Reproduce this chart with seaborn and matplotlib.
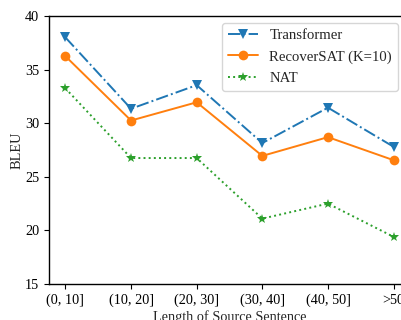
import matplotlib
matplotlib.use("Agg")
import matplotlib.pyplot as plt
import seaborn as sns
import pandas as pd

categories = ["(0, 10]", "(10, 20]", "(20, 30]", "(30, 40]", "(40, 50]", ">50"]
transformer = [38.0, 31.35, 33.55, 28.15, 31.45, 27.8]
recoversat = [36.25, 30.25, 31.95, 26.95, 28.7, 26.55]
nat = [33.25, 26.75, 26.75, 21.1, 22.5, 19.4]
yticks = [15, 20, 25, 30, 35, 40]

sns.set_style("ticks")
plt.rcParams["font.family"] = ["Liberation Serif", "DejaVu Serif"]

fig = plt.figure(figsize=(4.02, 3.2), dpi=100)
ax = fig.add_axes([49 / 402, 36 / 320, 361 / 402, 268 / 320])

pos = list(range(len(categories)))
series = [
    ("Transformer", transformer, "v", "-.", "C0", 7),
    ("RecoverSAT (K=10)", recoversat, "o", "-", "C1", 7),
    ("NAT", nat, "*", ":", "C2", 7),
]
for name, vals, mk, ls, col, ms in series:
    df = pd.DataFrame({"x": pos, "y": vals})
    sns.lineplot(data=df, x="x", y="y", ax=ax, marker=mk, linestyle=ls,
                 color=col, markersize=ms, markeredgewidth=0, label=name,
                 linewidth=1.4)

ax.set_xlim(-0.25, 5.25)
ax.set_ylim(15, 40)
ax.set_xticks(pos)
ax.set_xticklabels(categories, fontsize=10.3)
ax.set_yticks(yticks)
ax.set_yticklabels([str(v) for v in yticks], fontsize=10.3)
ax.set_xlabel("Length of Source Sentence", fontsize=10.3, labelpad=2)
ax.set_ylabel("BLEU", fontsize=10.3, labelpad=1)
for s in ax.spines.values():
    s.set_color("black")
    s.set_linewidth(1.0)
ax.tick_params(direction="out", length=3.5, width=0.8, colors="black", pad=3.5)

leg = ax.legend(loc="upper right", bbox_to_anchor=(398 / 402, 1 - 23 / 320),
                bbox_transform=fig.transFigure, fontsize=10.6, frameon=True,
                handlelength=2.0, borderaxespad=0.0, labelspacing=0.55)
leg.get_frame().set_edgecolor("#cccccc")

fig.savefig("out.png", dpi=100)
